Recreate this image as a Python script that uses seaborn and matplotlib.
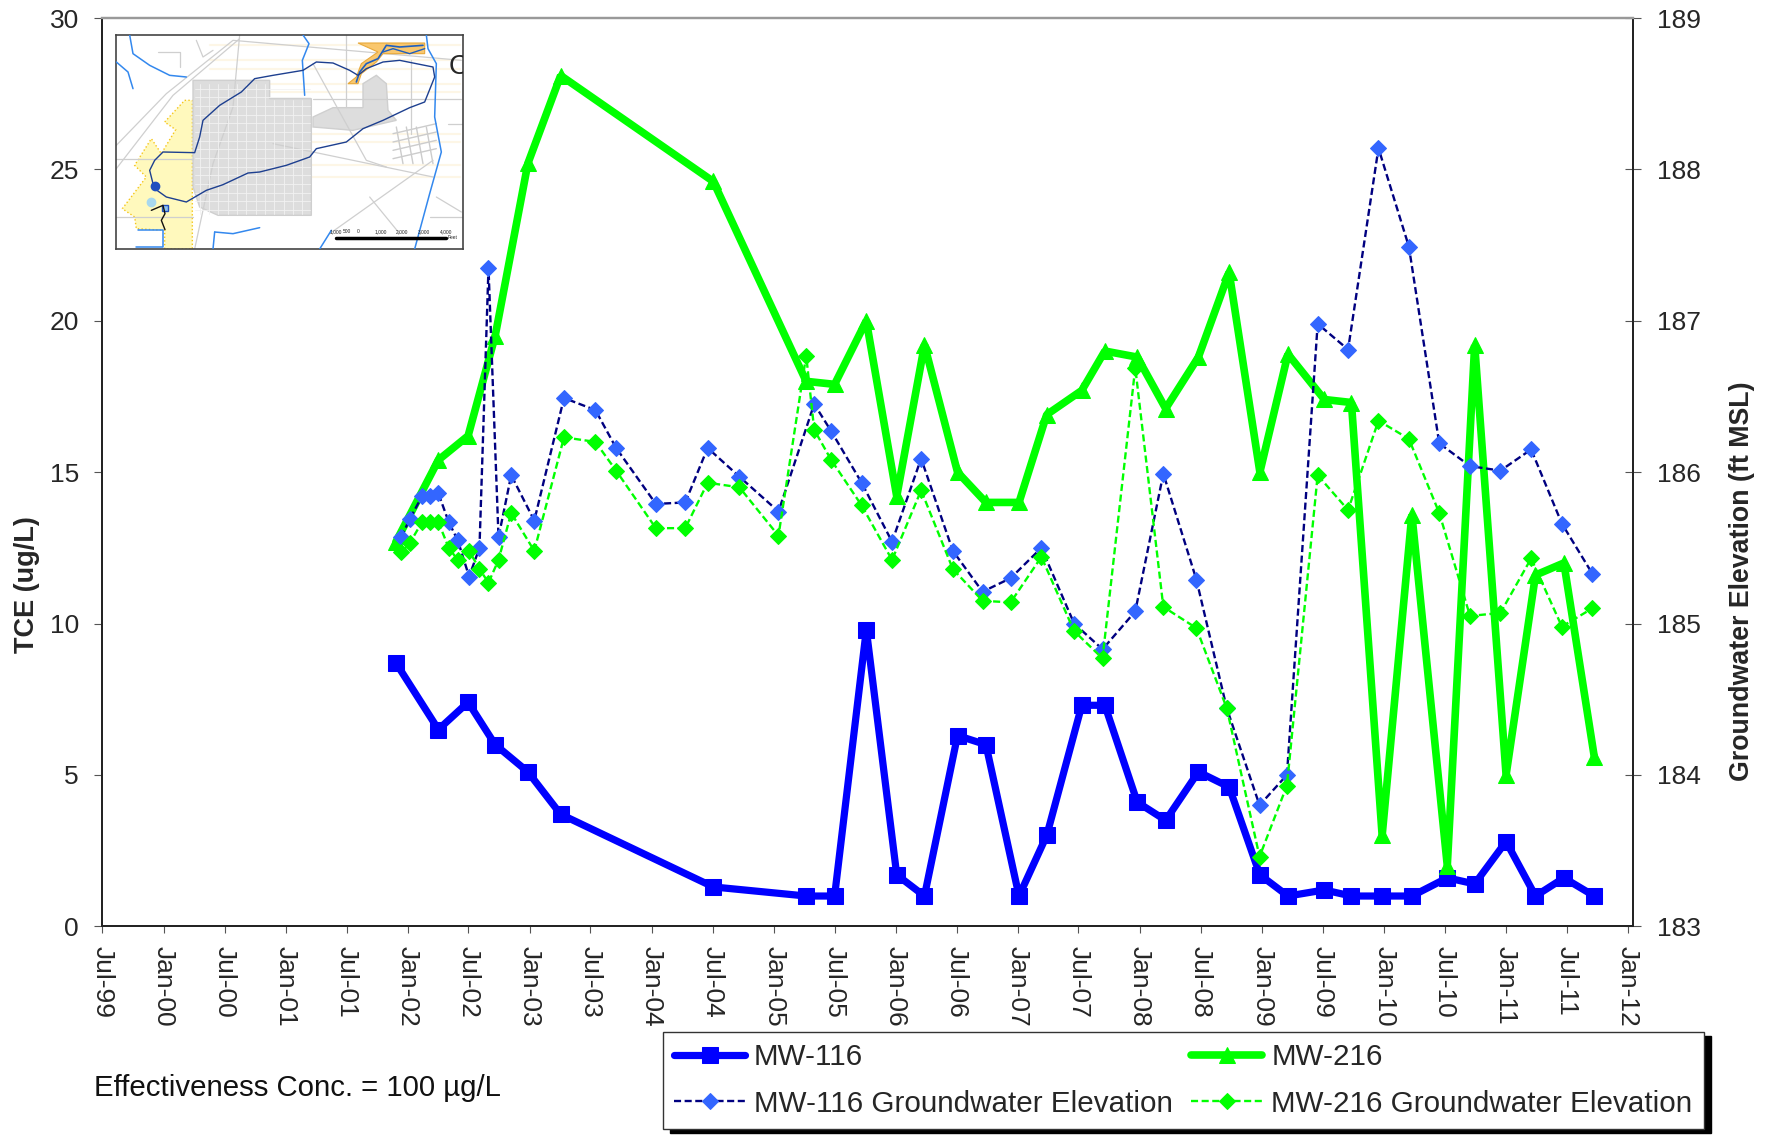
import matplotlib
matplotlib.use("Agg")
import pandas as pd
import matplotlib.pyplot as plt
import matplotlib.dates as mdates
import seaborn as sns
from matplotlib.patches import Polygon

# TCE samples
tce_dates = ["2001-11-26", "2002-04-02", "2002-06-30", "2002-09-19", "2002-12-26", "2003-04-03",
             "2004-07-03", "2005-04-07", "2005-07-01", "2005-10-04", "2006-01-03", "2006-03-27",
             "2006-07-04", "2006-09-27", "2007-01-04", "2007-03-28", "2007-07-11", "2007-09-18",
             "2007-12-24", "2008-03-18", "2008-06-24", "2008-09-24", "2008-12-25", "2009-03-19",
             "2009-07-06", "2009-09-25", "2009-12-26", "2010-03-25", "2010-07-09", "2010-09-29",
             "2011-01-01", "2011-03-30", "2011-06-23", "2011-09-22"]
mw116_tce = [8.7, 6.5, 7.4, 6.0, 5.1, 3.7, 1.3, 1.0, 1.0, 9.8, 1.7, 1.0, 6.3, 6.0, 1.0, 3.0, 7.3, 7.3,
             4.1, 3.5, 5.1, 4.6, 1.7, 1.0, 1.2, 1.0, 1.0, 1.0, 1.6, 1.4, 2.8, 1.0, 1.6, 1.0]
mw216_tce = [12.7, 15.4, 16.2, 19.5, 25.2, 28.1, 24.6, 18.0, 17.9, 20.0, 14.2, 19.2, 15.0, 14.0, 14.0,
             16.9, 17.7, 19.0, 18.8, 17.1, 18.8, 21.6, 15.0, 18.9, 17.4, 17.3, 3.0, 13.6, 2.0, 19.2,
             5.0, 11.6, 12.0, 5.6]

# groundwater elevations
gw116_dates = ["2001-12-12", "2002-01-06", "2002-02-12", "2002-03-09", "2002-04-02", "2002-05-03",
               "2002-05-30", "2002-07-03", "2002-08-03", "2002-08-30", "2002-09-29", "2002-11-06",
               "2003-01-14", "2003-04-13", "2003-07-16", "2003-09-16", "2004-01-13", "2004-04-10",
               "2004-06-16", "2004-09-19", "2005-01-14", "2005-05-01", "2005-06-21", "2005-09-20",
               "2005-12-20", "2006-03-17", "2006-06-20", "2006-09-17", "2006-12-10", "2007-03-12",
               "2007-06-18", "2007-09-11", "2007-12-18", "2008-03-11", "2008-06-18", "2008-09-17",
               "2008-12-24", "2009-03-16", "2009-06-16", "2009-09-15", "2009-12-15", "2010-03-16",
               "2010-06-15", "2010-09-15", "2010-12-15", "2011-03-17", "2011-06-17", "2011-09-16"]
gw116_elev = [185.57, 185.69, 185.84, 185.84, 185.86, 185.67, 185.55, 185.31, 185.50, 187.35, 185.57,
              185.98, 185.68, 186.49, 186.41, 186.16, 185.79, 185.80, 186.16, 185.97, 185.74, 186.45,
              186.27, 185.93, 185.54, 186.09, 185.48, 185.21, 185.30, 185.50, 185.00, 184.83, 185.08,
              185.99, 185.29, 184.44, 183.80, 184.00, 186.98, 186.81, 188.14, 187.49, 186.19, 186.04,
              186.01, 186.15, 185.66, 185.33]
gw216_dates = ["2001-12-12", "2002-01-06", "2002-02-12", "2002-03-09", "2002-04-02", "2002-05-03",
               "2002-05-30", "2002-07-03", "2002-08-03", "2002-08-30", "2002-09-29", "2002-11-06",
               "2003-01-14", "2003-04-13", "2003-07-16", "2003-09-16", "2004-01-13", "2004-04-10",
               "2004-06-16", "2004-09-19", "2005-01-14", "2005-04-07", "2005-05-01", "2005-06-21",
               "2005-09-20", "2005-12-20", "2006-03-17", "2006-06-20", "2006-09-17", "2006-12-10",
               "2007-03-12", "2007-06-18", "2007-09-11", "2007-12-18", "2008-03-11", "2008-06-18",
               "2008-09-17", "2008-12-24", "2009-03-16", "2009-06-16", "2009-09-15", "2009-12-15",
               "2010-03-16", "2010-06-15", "2010-09-15", "2010-12-15", "2011-03-17", "2011-06-17",
               "2011-09-16"]
gw216_elev = [185.47, 185.53, 185.67, 185.67, 185.67, 185.50, 185.42, 185.48, 185.36, 185.27, 185.42,
              185.73, 185.48, 186.23, 186.20, 186.01, 185.63, 185.63, 185.93, 185.90, 185.58, 186.77,
              186.28, 186.08, 185.78, 185.42, 185.88, 185.36, 185.15, 185.14, 185.44, 184.95, 184.77,
              186.69, 185.11, 184.97, 184.44, 183.46, 183.93, 185.98, 185.75, 186.34, 186.22, 185.73,
              185.05, 185.07, 185.43, 184.98, 185.10]

BLUE = "#0000ff"
GREEN = "#00ff00"
NAVY = "#000080"
DIAMOND = "#3366ff"
DASH = (0, (3, 1.5))


def draw_map(ax):
    """small site map, only a rough sketch of the original inset"""
    ax.set_xlim(49, 1090)
    ax.set_ylim(686, 44)
    ax.set_xticks([])
    ax.set_yticks([])
    ax.set_facecolor("white")

    # faint orange street bands
    for y in [75, 120, 145, 190, 215, 340, 365, 435, 470]:
        ax.plot([330, 1080], [y, y], color="#fdf6e6", lw=1.5, zorder=1)

    ax.add_patch(Polygon([(255, 240), (278, 240), (278, 686), (195, 686), (195, 630), (110, 625), (105, 590),
                          (68, 565), (140, 470), (105, 435), (155, 355), (185, 400), (228, 328), (195, 305)],
                         facecolor="#fff9bd", edgecolor="#f5c518", lw=1.0, ls=":", zorder=2))
    ax.add_patch(Polygon([(280, 180), (510, 180), (510, 235), (635, 235), (635, 585), (355, 585), (300, 560),
                          (280, 500)], facecolor="#dddddd", edgecolor="#cfcfcf", zorder=2))
    ax.add_patch(Polygon([(640, 290), (700, 262), (790, 262), (790, 190), (830, 165), (860, 190), (865, 270),
                          (890, 300), (760, 330), (640, 320)], facecolor="#dddddd", edgecolor="#cfcfcf", zorder=2))

    # street grid over the built up area
    for x in range(300, 635, 28):
        ax.plot([x, x], [190 if x < 510 else 240, 580], color="#f2f2f2", lw=0.6, zorder=3)
    for y in range(205, 585, 26):
        ax.plot([285, 632], [y, y], color="#f2f2f2", lw=0.6, zorder=3)

    # subdivision east side
    for x in [890, 920, 950, 980]:
        ax.plot([x, x + 20], [320, 430], color="#cccccc", lw=1, zorder=2)
    for y in [340, 365, 390, 415]:
        ax.plot([880, 1010], [y, y - 30], color="#cccccc", lw=1, zorder=2)

    # main roads
    roads = [[(50, 375), (200, 220), (400, 60), (1085, 120)], [(50, 445), (220, 225), (420, 55)],
             [(420, 44), (400, 260), (340, 430), (285, 686)], [(50, 415), (280, 415)],
             [(50, 590), (280, 590)], [(640, 130), (800, 420), (860, 440)], [(1085, 235), (640, 235)],
             [(740, 44), (740, 260)], [(935, 120), (935, 340)], [(1000, 420), (690, 640)],
             [(810, 530), (900, 640)], [(1010, 530), (1085, 575)], [(520, 370), (1000, 470)],
             [(175, 95), (240, 95), (240, 140)], [(290, 60), (310, 110), (340, 90)],
             [(1045, 310), (1090, 310)], [(990, 590), (1090, 590)]]
    for r in roads:
        ax.plot(*zip(*r), color="#cfcfcf", lw=0.9, zorder=2)

    # orange area upper right
    ax.add_patch(Polygon([(775, 68), (975, 68), (975, 100), (850, 100), (830, 125), (785, 160), (775, 190),
                          (745, 190), (770, 170), (785, 130), (835, 95)], facecolor="#f9c76e",
                         edgecolor="#e8a93b", lw=0.8, zorder=3))
    ax.plot([770, 780, 800, 835, 860, 900, 970], [185, 155, 130, 115, 75, 80, 75], color="#1f5fbf", lw=1.2, zorder=4)
    ax.plot([850, 880, 930, 975], [95, 85, 100, 85], color="#1f5fbf", lw=1, zorder=4)

    # streams
    streams = [[(90, 44), (100, 100), (150, 135), (210, 165), (260, 170)],
               [(50, 125), (85, 155), (100, 205)],
               [(610, 44), (628, 70), (608, 120), (615, 225)],
               [(980, 44), (985, 85), (1010, 130), (1005, 290), (1025, 395), (990, 520), (945, 686)],
               [(695, 630), (660, 686)],
               [(345, 635), (340, 686)], [(345, 635), (400, 640), (480, 622)],
               [(115, 628), (190, 628), (190, 680), (110, 680)]]
    for s in streams:
        ax.plot(*zip(*s), color="#3388ee", lw=1.1, zorder=4)

    # plume outline
    plume = [(160, 490), (150, 450), (165, 420), (190, 395), (285, 397), (300, 350), (310, 300), (360, 255),
             (425, 215), (465, 175), (520, 165), (610, 150), (650, 125), (700, 128), (750, 150), (775, 165),
             (800, 145), (850, 125), (900, 120), (1000, 140), (1005, 170), (985, 220), (975, 245), (930, 262),
             (850, 300), (790, 325), (740, 365), (650, 385), (630, 410), (560, 435), (480, 455), (445, 458),
             (370, 493), (320, 510), (260, 545), (200, 530), (165, 505)]
    ax.plot(*zip(*plume), color="#1d3f8f", lw=1.0, zorder=5)

    # ponds near the west end
    ax.plot([165], [497], "o", color="#1f4fbf", ms=6, zorder=5)
    ax.plot([153], [545], "o", color="#a8d8ee", ms=6, zorder=5)
    ax.plot([196], [564], "s", color="#8fc4ee", ms=4, mec="#1f4fbf", zorder=5)
    ax.plot([155, 190, 196, 185, 196], [570, 555, 580, 600, 628], color="#111111", lw=1, zorder=5)

    # scale bar
    ax.plot([708, 1040], [652, 652], color="black", lw=2.5, zorder=6)
    ax.text(1043, 652, "Feet", fontsize=3.5, va="center", zorder=6)
    for x, t in zip([708, 742, 775, 842, 908, 973, 1040], ["1,000", "500", "0", "1,000", "2,000", "3,000", "4,000"]):
        ax.text(x, 638, t, fontsize=3.5, ha="center", zorder=6)
    ax.text(1076, 140, "C", fontsize=20, ha="center", va="center", clip_on=True, zorder=6)

    for s in ax.spines.values():
        s.set_visible(True)
        s.set_color("#444444")
        s.set_linewidth(1.2)


def main():
    sns.set_theme(style="white")
    plt.rcParams['font.family'] = ['Liberation Sans', 'DejaVu Sans']

    df116 = pd.DataFrame({"date": pd.to_datetime(tce_dates), "tce": mw116_tce})
    df216 = pd.DataFrame({"date": pd.to_datetime(tce_dates), "tce": mw216_tce})
    gw116 = pd.DataFrame({"date": pd.to_datetime(gw116_dates), "elev": gw116_elev})
    gw216 = pd.DataFrame({"date": pd.to_datetime(gw216_dates), "elev": gw216_elev})

    fig = plt.figure(figsize=(17.74, 11.35), dpi=100)
    ax = fig.add_axes([102.3 / 1774, 1 - 926.3 / 1135, (1632.7 - 102.3) / 1774, (926.3 - 18) / 1135])
    ax2 = ax.twinx()

    # lift the groundwater axes so the diamonds sit on top of the thick lines
    ax2.set_zorder(ax.get_zorder() + 1)
    ax2.patch.set_visible(False)

    sns.lineplot(data=df116, x="date", y="tce", ax=ax, color=BLUE, lw=5.2, marker="s", ms=11,
                 mec=BLUE, label="MW-116", errorbar=None, solid_joinstyle="bevel")
    sns.lineplot(data=df216, x="date", y="tce", ax=ax, color=GREEN, lw=5.5, marker="^", ms=11.5,
                 mec=GREEN, label="MW-216", errorbar=None, solid_joinstyle="bevel")
    sns.lineplot(data=gw116, x="date", y="elev", ax=ax2, color=NAVY, lw=1.7, ls=DASH, marker="D",
                 ms=8, mfc=DIAMOND, mec=DIAMOND, label="MW-116 Groundwater Elevation", errorbar=None)
    sns.lineplot(data=gw216, x="date", y="elev", ax=ax2, color=GREEN, lw=1.7, ls=DASH, marker="D",
                 ms=8, mfc=GREEN, mec=GREEN, label="MW-216 Groundwater Elevation", errorbar=None)

    ax.set_xlim(pd.Timestamp("1999-07-01"), pd.Timestamp("2012-01-15"))
    ax.set_ylim(0, 30)
    ax2.set_ylim(183, 189)
    ax.xaxis.set_major_locator(mdates.MonthLocator(bymonth=[1, 7]))
    ax.xaxis.set_major_formatter(mdates.DateFormatter("%b-%y"))

    ax.set_xlabel("")
    ax.set_ylabel("TCE (ug/L)", fontsize=19.5, fontweight="bold", va="center")
    ax.yaxis.set_label_coords((27 - 102.3) / 1530.4, 1 - (585 - 18) / 908.3)
    ax2.set_ylabel("Groundwater Elevation (ft MSL)", fontsize=19.3, fontweight="bold", va="center")
    ax2.yaxis.set_label_coords((1742 - 102.3) / 1530.4, 1 - (581.6 - 18) / 908.3)

    ax.tick_params(axis="x", labelsize=19, rotation=270, length=5, width=0.8, direction="out", bottom=True,
                   color="#555555", pad=9)
    ax.tick_params(axis="y", labelsize=19, length=5.8, width=0.8, direction="out", left=True,
                   color="#555555", pad=11)
    ax2.tick_params(axis="y", labelsize=19, length=11.5, width=0.8, direction="inout", right=True,
                    color="#555555", pad=12)
    for a in [ax, ax2]:
        for side, s in a.spines.items():
            s.set_color("#999999" if side == "top" else "#222222")
            s.set_linewidth(1.6 if side == "top" else 1.3)

    handles = ax.get_legend_handles_labels()[0] + ax2.get_legend_handles_labels()[0]
    labels = ax.get_legend_handles_labels()[1] + ax2.get_legend_handles_labels()[1]
    ax.get_legend().remove()
    ax2.get_legend().remove()
    # two columns, top row is the TCE pair
    order = [0, 2, 1, 3]
    fig.legend([handles[i] for i in order], [labels[i] for i in order], ncol=2, loc="lower left",
               bbox_to_anchor=(663 / 1774, 6 / 1135), bbox_transform=fig.transFigure, fontsize=21.3,
               frameon=True, fancybox=False, edgecolor="#333333", facecolor="white", framealpha=1,
               shadow={"ox": 5, "oy": -3, "color": "black", "alpha": 1}, handlelength=2.4, columnspacing=0.62,
               handletextpad=0.3, labelspacing=0.62, borderpad=0.38, borderaxespad=0)

    fig.text(94 / 1774, 1 - 1088 / 1135, "Effectiveness Conc. = 100 µg/L", fontsize=21.2, va="center", color="#111111")

    # site map inset
    mapax = fig.add_axes([116 / 1774, 1 - 249 / 1135, 347 / 1774, 214 / 1135], zorder=10)
    draw_map(mapax)

    plt.savefig("out.png", dpi=100)
    plt.close()


if __name__ == "__main__":
    main()
